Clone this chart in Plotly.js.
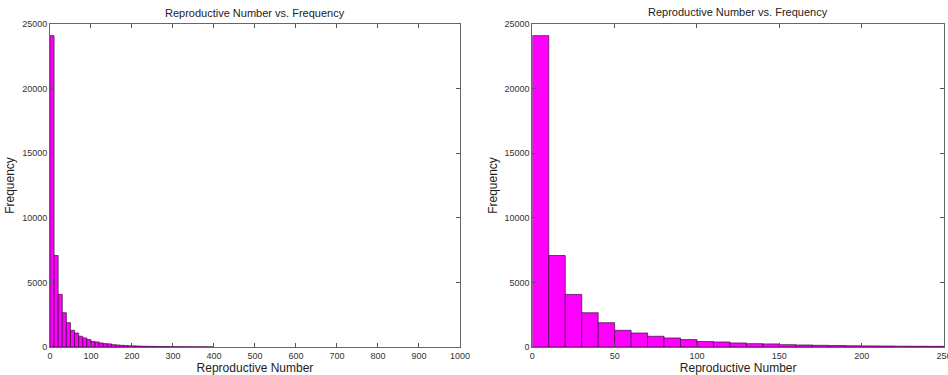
<!DOCTYPE html>
<html>
<head>
<meta charset="utf-8">
<script src="https://cdn.plot.ly/plotly-3.0.1.min.js"></script>
<style>html,body{margin:0;padding:0;background:#fff;}#chart{width:948px;height:375px;}</style>
</head>
<body>
<div id="chart"></div>
<script>
// Histogram bin lower edges (Reproductive Number) and counts (Frequency)
const binLower = [0,10,20,30,40,50,60,70,80,90,100,110,120,130,140,150,160,170,180,190,
                  200,210,220,230,240,250,260,270,280,290,300,310,320,330,340,350,360,370,380,390];
const frequency = [24100,7080,4070,2650,1880,1290,1080,830,700,570,420,390,310,260,240,180,155,130,110,95,
                   85,75,62,55,48,42,38,33,30,26,23,20,18,16,14,12,10,9,8,7];
const leftXTicks = [0,100,200,300,400,500,600,700,800,900,1000];
const rightXTicks = [0,50,100,150,200,250];
const yTicks = [0,5000,10000,15000,20000,25000];
const chartTitle = "Reproductive Number vs. Frequency";
const xLabel = "Reproductive Number";
const yLabel = "Frequency";

const barStyle = {color:'#ff00ff', line:{color:'#3a0a3a', width:0.7}};
const traces = [
  {type:'bar', x:binLower, y:frequency, offset:0, width:10, marker:barStyle, xaxis:'x', yaxis:'y', hoverinfo:'x+y'},
  {type:'bar', x:binLower, y:frequency, offset:0, width:10, marker:barStyle, xaxis:'x2', yaxis:'y2', hoverinfo:'x+y'}
];
const tickFont = {family:'Liberation Sans, Arial, sans-serif', size:9, color:'#333'};
const titleFont = {family:'Liberation Sans, Arial, sans-serif', size:12, color:'#222'};
function xAx(domain, range, ticks){
  return {domain:domain, range:range, tickvals:ticks, ticktext:ticks.map(String), ticks:'inside', ticklen:4,
    tickcolor:'#555', showline:true, linecolor:'#666', linewidth:1, mirror:'ticks', showgrid:false, zeroline:false,
    tickfont:tickFont, ticklabeloverflow:'allow', title:{text:xLabel, font:titleFont, standoff:1}, automargin:false};
}
function yAx(anchor, ticks){
  return {domain:[0.0747,0.936], range:[0,25000], tickvals:ticks, ticktext:ticks.map(String), ticks:'inside', ticklen:4,
    tickcolor:'#555', showline:true, linecolor:'#666', linewidth:1, mirror:'ticks', showgrid:false, zeroline:false,
    tickfont:tickFont, anchor:anchor, title:{text:yLabel, font:titleFont, standoff:4}, automargin:false};
}
const layout = {
  width:948, height:375, margin:{l:0,r:0,t:0,b:0}, paper_bgcolor:'#fff', plot_bgcolor:'#fff',
  showlegend:false, bargap:0,
  xaxis: Object.assign(xAx([0.0527,0.4852],[0,1000],leftXTicks),{anchor:'y'}),
  yaxis: yAx('x', yTicks),
  xaxis2: Object.assign(xAx([0.5615,0.9958],[0,250],rightXTicks),{anchor:'y2'}),
  yaxis2: yAx('x2', yTicks),
  annotations:[
    {text:chartTitle, xref:'paper', yref:'paper', x:(0.0527+0.4852)/2, y:1-13/375, xanchor:'center', yanchor:'middle', showarrow:false, font:{family:'Liberation Sans, Arial, sans-serif', size:11, color:'#222'}},
    {text:chartTitle, xref:'paper', yref:'paper', x:(0.5615+0.9958)/2, y:1-12/375, xanchor:'center', yanchor:'middle', showarrow:false, font:{family:'Liberation Sans, Arial, sans-serif', size:11, color:'#222'}}
  ]
};
Plotly.newPlot('chart', traces, layout, {displayModeBar:false, staticPlot:true});
</script>
</body>
</html>
